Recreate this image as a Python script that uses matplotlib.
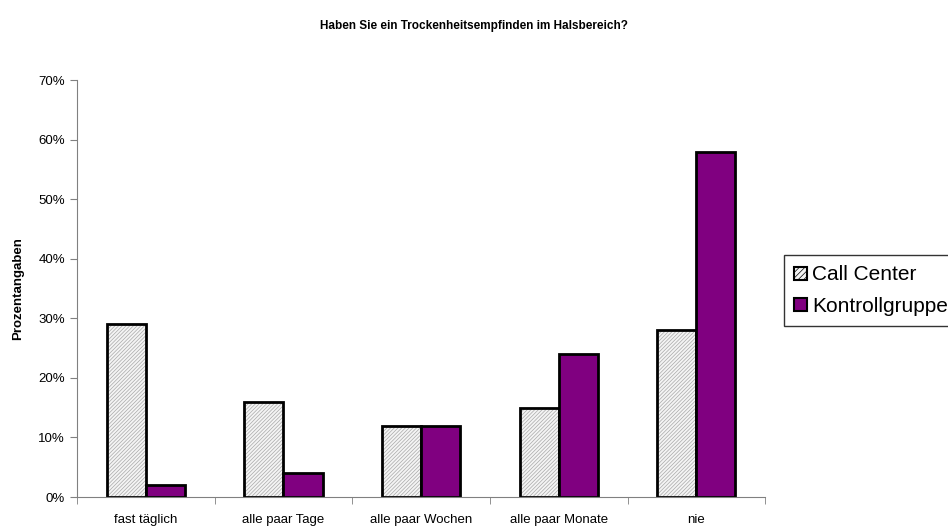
import matplotlib
matplotlib.use("Agg")
import matplotlib.pyplot as plt
from matplotlib.patches import Patch
import numpy as np

categories = ["fast täglich", "alle paar Tage", "alle paar Wochen", "alle paar Monate", "nie"]
call_center = [29, 16, 12, 15, 28]
kontrollgruppe = [2, 4, 12, 24, 58]

plt.rcParams['font.family'] = ['Liberation Sans', 'DejaVu Sans']
plt.rcParams['hatch.linewidth'] = 0.5

fig = plt.figure(figsize=(9.48, 5.27), dpi=100)
ax = fig.add_axes([0.0812, 0.0569, 0.726, 0.791])

x = np.arange(len(categories))
w = 0.284

# Call Center: hatched fill, then black outline on top
ax.bar(x - w / 2, call_center, w, color="#f4f4f4", edgecolor="#a8a8a8", hatch="/////////", linewidth=0)
ax.bar(x - w / 2, call_center, w, fill=False, edgecolor="black", linewidth=2)
ax.bar(x + w / 2, kontrollgruppe, w, color="#800080", edgecolor="black", linewidth=2)

ax.set_xlim(-0.5, len(categories) - 0.5)
ax.set_ylim(0, 70)
ax.set_yticks(range(0, 71, 10))
ax.set_yticklabels([f"{v}%" for v in range(0, 71, 10)], fontsize=9.5)

ax.set_xticks(x)
ax.set_xticklabels(categories, fontsize=9.5)
ax.tick_params(axis="x", length=0, pad=12)
ax.set_xticks(np.arange(-0.5, len(categories), 1), minor=True)
ax.tick_params(axis="x", which="minor", length=5, color="#808080", direction="out")
ax.tick_params(axis="y", length=5, color="#808080", direction="out")

for s in ("top", "right"):
    ax.spines[s].set_visible(False)
for s in ("left", "bottom"):
    ax.spines[s].set_color("#808080")

ax.set_ylabel("Prozentangaben", fontsize=9.5, fontweight="bold", labelpad=10)
fig.suptitle("Haben Sie ein Trockenheitsempfinden im Halsbereich?", fontsize=8.5, fontweight="bold", y=0.962)

handles = [
    Patch(facecolor="#f4f4f4", edgecolor="black", hatch="//////", linewidth=1.5, label="Call Center"),
    Patch(facecolor="#800080", edgecolor="black", linewidth=1.5, label="Kontrollgruppe"),
]
leg = fig.legend(handles=handles, loc="upper left", bbox_to_anchor=(0.827, 0.516), fontsize=15,
                 frameon=True, fancybox=False, edgecolor="black", handlelength=0.6, handleheight=0.6,
                 handletextpad=0.25, borderpad=0.5, labelspacing=0.6, borderaxespad=0)
leg.get_frame().set_linewidth(1)

fig.savefig("out.png", dpi=100)
